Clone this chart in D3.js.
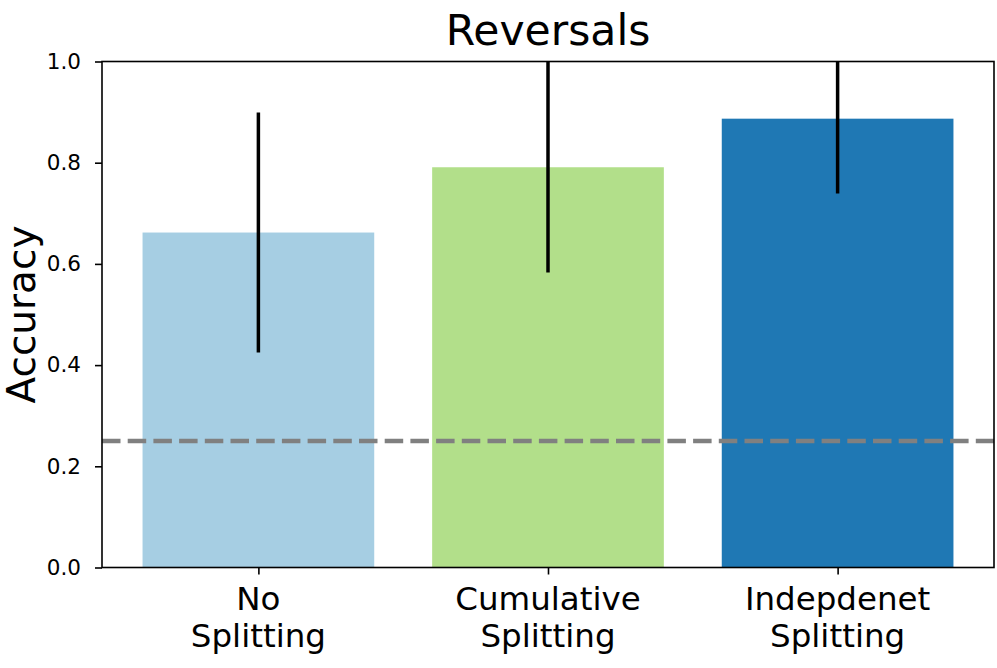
<!DOCTYPE html>
<html>
<head>
<meta charset="utf-8">
<script src="https://cdn.jsdelivr.net/npm/d3@7"></script>
<style>
  html, body { margin: 0; padding: 0; background: #fff; }
  svg { display: block; }
  text { font-family: "DejaVu Sans", sans-serif; fill: #000; }
</style>
</head>
<body>
<svg id="chart" width="997" height="668"></svg>
<script>
const categories = [["No", "Splitting"], ["Cumulative", "Splitting"], ["Indepdenet", "Splitting"]];
const means = [0.662, 0.791, 0.887];
const errors = [0.237, 0.208, 0.148];
const colors = ["#a6cee3", "#b2df8a", "#1f78b4"];
const yTicks = [0.0, 0.2, 0.4, 0.6, 0.8, 1.0];
const chanceLevel = 0.25;
const title = "Reversals";
const yLabel = "Accuracy";

const W = 997, H = 668;
const m = { left: 102, right: 3, top: 61.5, bottom: 100.5 };
const iw = W - m.left - m.right, ih = H - m.top - m.bottom;

const svg = d3.select("#chart");
const g = svg.append("g").attr("transform", `translate(${m.left},${m.top})`);

const barW = 0.8;
const x = d3.scaleLinear().domain([-0.54, 2.54]).range([0, iw]);
const y = d3.scaleLinear().domain([0, 1]).range([ih, 0]);

svg.append("defs").append("clipPath").attr("id", "clip")
  .append("rect").attr("width", iw).attr("height", ih);

const plot = g.append("g").attr("clip-path", "url(#clip)");

plot.selectAll("rect.bar").data(means).enter().append("rect")
  .attr("class", "bar")
  .attr("x", (d, i) => x(i - barW / 2))
  .attr("width", (d, i) => x(i + barW / 2) - x(i - barW / 2))
  .attr("y", d => y(d))
  .attr("height", d => y(0) - y(d))
  .attr("fill", (d, i) => colors[i]);

plot.selectAll("line.err").data(means).enter().append("line")
  .attr("class", "err")
  .attr("x1", (d, i) => x(i)).attr("x2", (d, i) => x(i))
  .attr("y1", (d, i) => y(d - errors[i]))
  .attr("y2", (d, i) => y(d + errors[i]))
  .attr("stroke", "#000").attr("stroke-width", 3.5);

plot.append("line")
  .attr("x1", 0).attr("x2", iw)
  .attr("y1", y(chanceLevel)).attr("y2", y(chanceLevel))
  .attr("stroke", "#808080").attr("stroke-width", 4.3)
  .attr("stroke-dasharray", "18.5,7.2");

// Y axis
const yAxis = g.append("g").call(
  d3.axisLeft(y).tickValues(yTicks).tickFormat(d3.format(".1f")).tickSize(7).tickPadding(14)
);
yAxis.select(".domain").remove();
yAxis.selectAll(".tick line").attr("stroke", "#000").attr("stroke-width", 1.6);
yAxis.selectAll(".tick text").style("font-size", "21.5px").attr("font-family", "DejaVu Sans");

// X axis
const xAxis = g.append("g").attr("transform", `translate(0,${ih})`).call(
  d3.axisBottom(x).tickValues([0, 1, 2]).tickFormat("").tickSize(7)
);
xAxis.select(".domain").remove();
xAxis.selectAll(".tick line").attr("stroke", "#000").attr("stroke-width", 1.6);

const xl = g.append("g").selectAll("text").data(categories).enter().append("text")
  .attr("text-anchor", "middle")
  .style("font-size", "32.5px");
xl.each(function(d, i) {
  const t = d3.select(this);
  d.forEach((line, k) => {
    t.append("tspan").attr("x", x(i)).attr("y", ih + 42 + k * 37.5).text(line);
  });
});

// Frame
g.append("rect").attr("width", iw).attr("height", ih)
  .attr("fill", "none").attr("stroke", "#000").attr("stroke-width", 1.6);

// Title
svg.append("text").attr("x", m.left + iw / 2).attr("y", 45)
  .attr("text-anchor", "middle").style("font-size", "42.5px").text(title);

// Y label
svg.append("text")
  .attr("transform", `translate(35,${m.top + ih / 2}) rotate(-90)`)
  .attr("text-anchor", "middle").style("font-size", "39px").text(yLabel);
</script>
</body>
</html>
